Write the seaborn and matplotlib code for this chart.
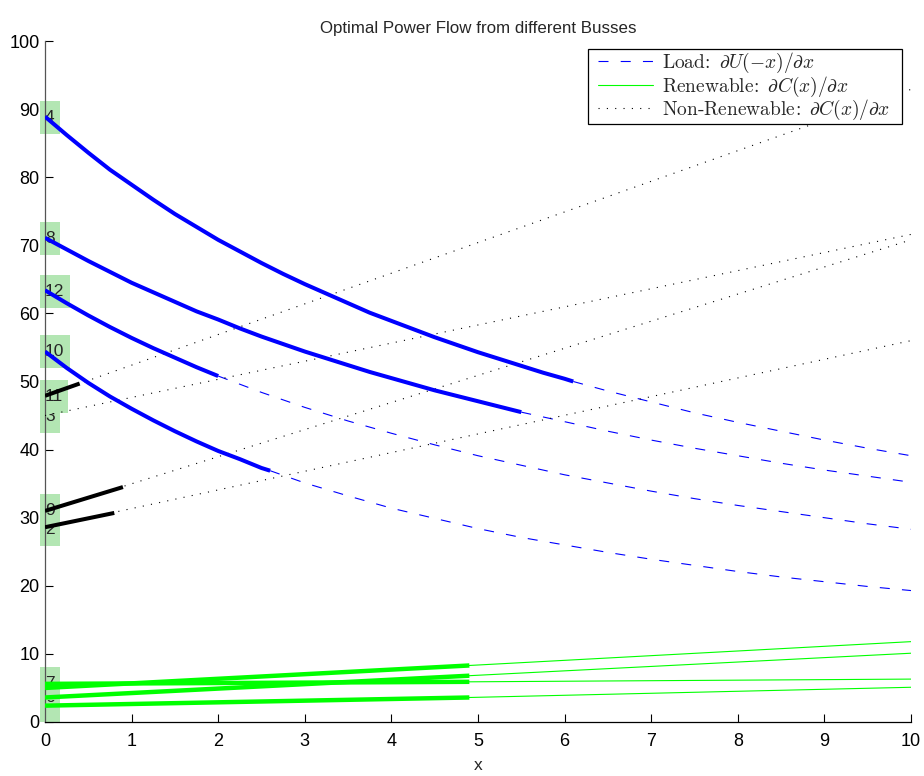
import matplotlib
matplotlib.use("Agg")
import matplotlib.pyplot as plt
import seaborn as sns
from matplotlib.path import Path
from matplotlib.lines import Line2D
from matplotlib.patches import Rectangle
from matplotlib.transforms import IdentityTransform

# ---------------- data ----------------
# Load busses: marginal utility curves; thick solid up to the dispatch point, dashed after
load_4_x = [0, 0.25, 0.5, 0.75, 1, 1.25, 1.5, 1.75, 2, 2.25, 2.5, 2.75, 3, 3.25, 3.5, 3.75,
            4, 4.25, 4.5, 4.75, 5, 5.25, 5.5, 5.75, 6, 6.1, 6.5, 7, 7.5, 8, 8.5, 9, 9.5, 10]
load_4_y = [88.9, 86.2, 83.6, 81.1, 78.9, 76.7, 74.6, 72.7, 70.8, 69.1, 67.4, 65.8, 64.3, 62.9,
            61.5, 60.1, 58.9, 57.7, 56.5, 55.4, 54.3, 53.3, 52.3, 51.3, 50.4, 50.0, 48.6, 47.0,
            45.4, 44.0, 42.7, 41.4, 40.2, 39.1]
load_4_dispatch = 6.1

load_8_x = [0, 0.25, 0.5, 0.75, 1, 1.25, 1.5, 1.75, 2, 2.25, 2.5, 2.75, 3, 3.25, 3.5, 3.75,
            4, 4.25, 4.5, 4.75, 5, 5.25, 5.5, 6, 6.5, 7, 7.5, 8, 8.5, 9, 9.5, 10]
load_8_y = [71.1, 69.4, 67.7, 66.1, 64.5, 63.1, 61.7, 60.3, 59.1, 57.8, 56.6, 55.5, 54.4, 53.4,
            52.4, 51.4, 50.5, 49.6, 48.7, 47.9, 47.1, 46.3, 45.5, 44.1, 42.7, 41.4, 40.2, 39.1,
            38.0, 37.0, 36.1, 35.2]
load_8_dispatch = 5.5

load_12_x = [0, 0.25, 0.5, 0.75, 1, 1.25, 1.5, 1.75, 2, 2.5, 3, 3.5, 4, 4.5, 5, 5.5, 6, 6.5,
             7, 7.5, 8, 8.5, 9, 9.5, 10]
load_12_y = [63.4, 61.5, 59.7, 58.0, 56.4, 54.9, 53.5, 52.1, 50.8, 48.4, 46.2, 44.2, 42.4, 40.7,
             39.1, 37.7, 36.3, 35.1, 33.9, 32.8, 31.8, 30.9, 30.0, 29.1, 28.3]
load_12_dispatch = 2.0

load_10_x = [0, 0.25, 0.5, 0.75, 1, 1.25, 1.5, 1.75, 2, 2.25, 2.5, 2.6, 3, 3.5, 4, 4.5, 5,
             5.5, 6, 6.5, 7, 7.5, 8, 8.5, 9, 9.5, 10]
load_10_y = [54.4, 52.0, 49.8, 47.8, 46.0, 44.3, 42.7, 41.2, 39.8, 38.6, 37.3, 36.9, 35.1, 33.2,
             31.4, 29.9, 28.4, 27.1, 26.0, 24.9, 23.9, 23.0, 22.1, 21.3, 20.6, 19.9, 19.3]
load_10_dispatch = 2.6

# Non-renewable busses: x = [0, dispatch, 10]
nonren_11_x = [0, 0.4, 10]
nonren_11_y = [47.9, 49.7, 92.9]
nonren_3_x = [0, 0.0, 10]
nonren_3_y = [45.0, 45.0, 71.6]
nonren_9_x = [0, 0.9, 10]
nonren_9_y = [31.0, 34.5, 70.8]
nonren_2_x = [0, 0.8, 10]
nonren_2_y = [28.6, 30.7, 56.0]

# Renewable busses: x = [0, dispatch, 10]
ren_x = [0, 4.9, 10]
ren_1_y = [2.4, 3.6, 5.1]
ren_5_y = [5.0, 8.3, 11.8]
ren_6_y = [3.6, 6.8, 10.1]
ren_7_y = [5.6, 5.9, 6.3]

bus_labels = ["1", "2", "3", "4", "5", "6", "7", "8", "9", "10", "11", "12"]
bus_start = [2.4, 28.2, 44.8, 88.7, 5.0, 3.6, 5.6, 71.0, 31.0, 54.4, 47.8, 63.2]

x_ticks = list(range(0, 11))
y_ticks = list(range(0, 101, 10))

# ---------------- styling ----------------
sns.set_theme(style="white")
plt.rcParams["font.family"] = ["Liberation Sans", "DejaVu Sans"]
plt.rcParams["mathtext.fontset"] = "cm"

BLUE = "#0000ff"
GREEN = "#00ff00"
BLACK = "#000000"
DASH = (0, (9, 11))
DOT = (0, (1, 6.5))

fig = plt.figure(figsize=(9.24, 7.76), dpi=100)
ax = fig.add_axes([45 / 924, 54 / 776, 866 / 924, 681 / 776])


def tagbox(x0, y0, width, height, mutation_size):
    px = 0.30 * mutation_size
    py = 0.52 * mutation_size
    x0 -= px
    y0 -= py
    x1 = x0 + width + 2 * px
    y1 = y0 + height + 2 * py
    return Path([(x0, y0), (x1, y0), (x1, y1), (x0, y1), (x0, y0)],
                [Path.MOVETO, Path.LINETO, Path.LINETO, Path.LINETO, Path.CLOSEPOLY])


# bus labels (drawn under the lines)
for lab, y0 in zip(bus_labels, bus_start):
    ax.text(0.0, y0, lab, fontsize=12.5, ha="left", va="center", zorder=1,
            bbox=dict(boxstyle=tagbox, facecolor="#b3e6b3", edgecolor="none"),
            clip_on=False)


def seg(xs, ys, lo, hi):
    px = [x for x in xs if lo <= x <= hi]
    py = [y for x, y in zip(xs, ys) if lo <= x <= hi]
    return px, py


# load curves
for xs, ys, d in [(load_4_x, load_4_y, load_4_dispatch),
                  (load_8_x, load_8_y, load_8_dispatch),
                  (load_12_x, load_12_y, load_12_dispatch),
                  (load_10_x, load_10_y, load_10_dispatch)]:
    sx, sy = seg(xs, ys, 0, d)
    dx, dy = seg(xs, ys, d, 10)
    sns.lineplot(x=dx, y=dy, ax=ax, color=BLUE, linewidth=0.8, sort=False,
                 estimator=None, linestyle=DASH, zorder=3)
    sns.lineplot(x=sx, y=sy, ax=ax, color=BLUE, linewidth=2.9, sort=False,
                 estimator=None, zorder=4, solid_capstyle="butt",
                 solid_joinstyle="round")

# non-renewable
for xs, ys in [(nonren_11_x, nonren_11_y), (nonren_3_x, nonren_3_y),
               (nonren_9_x, nonren_9_y), (nonren_2_x, nonren_2_y)]:
    sns.lineplot(x=[xs[0], xs[2]], y=[ys[0], ys[2]], ax=ax, color=BLACK,
                 linewidth=0.8, sort=False, estimator=None, linestyle=DOT, zorder=3)
    if xs[1] > 0:
        sns.lineplot(x=xs[:2], y=ys[:2], ax=ax, color=BLACK, linewidth=2.9,
                     sort=False, estimator=None, zorder=4, solid_capstyle="butt")

# renewable
for ys in [ren_1_y, ren_5_y, ren_6_y, ren_7_y]:
    sns.lineplot(x=ren_x, y=ys, ax=ax, color=GREEN, linewidth=0.8, sort=False,
                 estimator=None, zorder=3)
    sns.lineplot(x=ren_x[:2], y=ys[:2], ax=ax, color=GREEN, linewidth=3.2,
                 sort=False, estimator=None, zorder=4, solid_capstyle="butt")

ax.set_xlim(0, 10)
ax.set_ylim(0, 100)
ax.set_xticks(x_ticks)
ax.set_yticks(y_ticks)
ax.tick_params(bottom=True, left=True, top=False, right=False, direction="in",
               length=6, width=0.8, labelsize=13, colors="black")
ax.tick_params(axis="x", pad=8)
ax.tick_params(axis="y", pad=4)
for s in ["top", "right"]:
    ax.spines[s].set_visible(False)
ax.spines["left"].set_color("#555555")
ax.spines["bottom"].set_color("black")
ax.spines["left"].set_linewidth(0.9)
ax.spines["bottom"].set_linewidth(0.9)
ax.set_xlabel("x", fontsize=12.5, labelpad=6)
ax.set_ylabel("")
ax.set_title("Optimal Power Flow from different Busses", fontsize=12.2, pad=6)

handles = [
    Line2D([], [], color=BLUE, linewidth=0.8, linestyle=DASH),
    Line2D([], [], color=GREEN, linewidth=0.8),
    Line2D([], [], color=BLACK, linewidth=0.8, linestyle=DOT),
]
labels = [r"$\mathrm{Load}\!:\ \partial U(-x)/\partial x$",
          r"$\mathrm{Renewable}\!:\ \partial C(x)/\partial x$",
          r"$\mathrm{Non\text{-}Renewable}\!:\ \partial C(x)/\partial x$"]
leg = ax.legend(handles, labels, loc="upper right",
                bbox_to_anchor=((890 - 45) / 866, (722 - 51) / 681),
                bbox_transform=ax.transAxes, fontsize=14, frameon=False,
                borderaxespad=0, borderpad=0, labelspacing=-0.03,
                handlelength=2.85, handletextpad=0.46)
leg.set_zorder(10)

# frame drawn around the legend content with MATLAB-like padding
fig.canvas.draw()
bb = leg.get_window_extent()
frame = Rectangle((bb.x0 - 10, bb.y0 - 2), bb.width + 22, bb.height + 4,
                  transform=IdentityTransform(), facecolor="white",
                  edgecolor="black", linewidth=0.9, zorder=9, clip_on=False)
ax.add_patch(frame)

fig.savefig("out.png", dpi=100)
